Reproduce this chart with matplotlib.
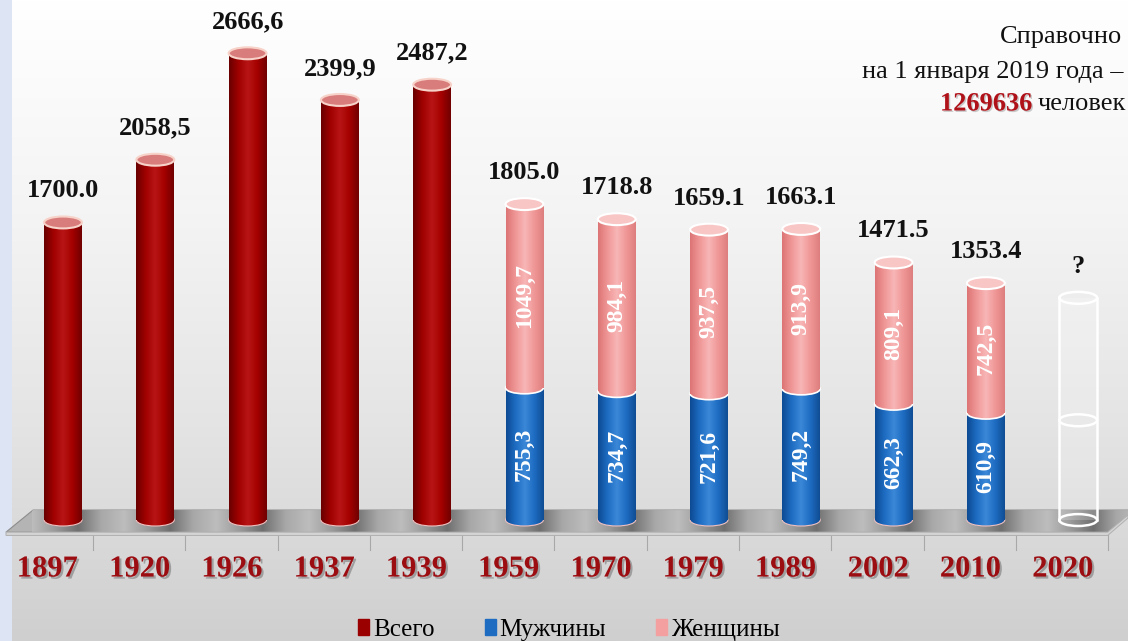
import matplotlib.pyplot as plt
import numpy as np
from matplotlib.patches import Ellipse, Polygon, Patch, Rectangle
from matplotlib.colors import LinearSegmentedColormap
import matplotlib.patheffects as pe

plt.rcParams['font.family'] = ['Liberation Serif', 'DejaVu Serif']

# census years and population, thousand people
years = ['1897', '1920', '1926', '1937', '1939', '1959', '1970',
         '1979', '1989', '2002', '2010', '2020']
totals = [1700.0, 2058.5, 2666.6, 2399.9, 2487.2, 1805.0, 1718.8,
          1659.1, 1663.1, 1471.5, 1353.4, np.nan]
total_labels = ['1700.0', '2058,5', '2666,6', '2399,9', '2487,2', '1805.0',
                '1718.8', '1659.1', '1663.1', '1471.5', '1353.4', '?']
men = [np.nan] * 5 + [755.3, 734.7, 721.6, 749.2, 662.3, 610.9] + [np.nan]
women = [np.nan] * 5 + [1049.7, 984.1, 937.5, 913.9, 809.1, 742.5] + [np.nan]
men_labels = ['755,3', '734,7', '721,6', '749,2', '662,3', '610,9']
women_labels = ['1049,7', '984,1', '937,5', '913,9', '809,1', '742,5']
# empty cylinder for 2020 census (height taken from the 2019 estimate)
est_2019 = 1269.636
est_split = 570

red_cm = LinearSegmentedColormap.from_list('r', ['#680000', '#a00000', '#b81616', '#a40000', '#700000'])
blue_cm = LinearSegmentedColormap.from_list('b', ['#0d4a92', '#1d6cc2', '#3b88d8', '#1d6cc2', '#104c93'])
pink_cm = LinearSegmentedColormap.from_list('p', ['#dc7474', '#f09696', '#f8b6b6', '#f09696', '#de7e7e'])
bg_cm = LinearSegmentedColormap.from_list('bg', ['#cfcfcf', '#e4e4e4', '#f4f4f4', '#ffffff'])
floor_cm = LinearSegmentedColormap.from_list('f', ['#bdbdbd', '#9a9a9a', '#6f6f6f', '#a8a8a8', '#bdbdbd'])

fig = plt.figure(figsize=(11.28, 6.41), dpi=100)
ax = fig.add_axes([0, 0, 1, 1])
ax.axis('off')
xlim = (-0.683, 11.54)
ylim = (-691, 2971)

bw = 0.41    # cylinder width
eh = 68      # ellipse height in data units
grad = np.linspace(0, 1, 256).reshape(1, -1)

# background
ax.imshow(np.linspace(0, 1, 256).reshape(-1, 1), cmap=bg_cm, origin='lower',
          aspect='auto', extent=(*xlim, *ylim), zorder=0)
ax.add_patch(Rectangle((0, 0), 0.011, 1, transform=ax.transAxes,
                       color='#dde4f4', zorder=0.5, lw=0))


def cylinder(x, bottom, height, cmap, cap=None, cap_edge='white', z=3):
    bar = ax.bar(x, height, bottom=bottom, width=bw, color=cmap(0.5), lw=0, zorder=z)[0]
    im = ax.imshow(grad, cmap=cmap, aspect='auto', zorder=z,
                   extent=(x - bw / 2, x + bw / 2, bottom, bottom + height))
    im.set_clip_path(bar)
    base = Ellipse((x, bottom), bw, eh, color=cmap(0.5), lw=0, zorder=z - 0.5)
    ax.add_patch(base)
    im2 = ax.imshow(grad, cmap=cmap, aspect='auto', zorder=z - 0.5,
                    extent=(x - bw / 2, x + bw / 2, bottom - eh, bottom + eh))
    im2.set_clip_path(base)
    # light rim at the lower edge of a segment
    ax.add_patch(Ellipse((x, bottom), bw, eh, fc='none', ec='white' if bottom > 0 else '#f0c0c0',
                         lw=1.2 if bottom > 0 else 0.8, zorder=z - 0.4))
    if cap:
        ax.add_patch(Ellipse((x, bottom + height), bw, eh, fc=cap, ec=cap_edge,
                             lw=1.5, zorder=z + 0.5))


# floor slab
floor_top = Polygon([(-0.325, 57), (xlim[1], 57), (xlim[1], 29), (11.32, -69), (-0.618, -69)],
                    closed=True, fc='#b4b4b4', ec='#8c8c8c', lw=0.8, zorder=1.5)
ax.add_patch(floor_top)
fl = ax.imshow(np.tile(grad, (1, len(years))), cmap=floor_cm, aspect='auto', zorder=1.5,
               extent=(-0.683 + 0.35, len(years) - 0.683 + 0.35, -69, 57))
fl.set_clip_path(floor_top)
ax.add_patch(Polygon([(-0.618, -69), (11.32, -69), (xlim[1], 29), (xlim[1], 12),
                      (11.32, -88), (-0.618, -88)], closed=True, fc='#d4d4d4',
                     ec='#b0b0b0', lw=0.7, zorder=1.6))

# category ticks under the floor
for i in range(1, len(years) + 1):
    ax.plot([i - 0.675, i - 0.675], [-88, -171], color='#a8a8a8', lw=0.8, zorder=1.4)

val_style = dict(ha='center', va='center', fontsize=19, fontweight='bold', color='#111111', zorder=10)
in_style = dict(ha='center', va='center', fontsize=17, fontweight='bold', color='white',
                rotation=90, zorder=10)

for i, yr in enumerate(years):
    if not np.isnan(men[i]):
        j = i - 5
        cylinder(i, 0, men[i], blue_cm, z=3)
        cylinder(i, men[i], women[i], pink_cm, cap='#f9c6c6', z=4)
        ax.text(i, men[i] / 2, men_labels[j], **in_style)
        ax.text(i, men[i] + women[i] / 2, women_labels[j], **in_style)
        ax.text(i, totals[i] + 180, total_labels[i], **val_style)
    elif not np.isnan(totals[i]):
        cylinder(i, 0, totals[i], red_cm, cap='#d97c7c', cap_edge='#f7d2c8', z=3)
        ax.text(i, totals[i] + 180, total_labels[i], **val_style)
    else:
        # hollow cylinder for the upcoming census
        ax.bar(i, est_2019, width=bw, color='white', alpha=0.2, lw=0, zorder=3)
        for side in (i - bw / 2, i + bw / 2):
            ax.plot([side, side], [0, est_2019], color='white', lw=1.8, zorder=4)
        for yy in (0, est_split, est_2019):
            ax.add_patch(Ellipse((i, yy), bw, eh, fc='none', ec='white', lw=1.8, zorder=4))
        ax.text(i, est_2019 + 180, total_labels[i], **val_style)

    ax.text(i - 0.17, -280, yr, ha='center', va='center', fontsize=22, fontweight='bold',
            color='#9c0d12', zorder=10,
            path_effects=[pe.withSimplePatchShadow(offset=(1.5, -1.5), shadow_rgbFace='#7a7a7a', alpha=0.6)])

ax.set_xlim(*xlim)
ax.set_ylim(*ylim)

# note in the top right corner (cut by the figure edge as in the source)
fig.text(1000 / 1128, 1 - 37 / 641, 'Справочно', fontsize=19, ha='left', va='center', color='#111111')
fig.text(862 / 1128, 1 - 72 / 641, 'на 1 января 2019 года –', fontsize=19, ha='left',
         va='center', color='#111111')
fig.text(940 / 1128, 1 - 104 / 641, '1269636', fontsize=19, fontweight='bold', ha='left',
         va='center', color='#b0121a',
         path_effects=[pe.withSimplePatchShadow(offset=(1, -1), shadow_rgbFace='#999999', alpha=0.5)])
fig.text(1038 / 1128, 1 - 104 / 641, 'человек', fontsize=19, ha='left', va='center', color='#111111')

handles = [Patch(color='#9a0000', label='Всего'),
           Patch(color='#1d6cc2', label='Мужчины'),
           Patch(color='#f4a0a0', label='Женщины')]
fig.legend(handles=handles, loc='center', bbox_to_anchor=(569 / 1128, 1 - 630 / 641), ncol=3,
           frameon=False, fontsize=18, handlelength=0.45, handleheight=0.6,
           handletextpad=0.15, columnspacing=2.0)

fig.savefig('out.png', dpi=100)
